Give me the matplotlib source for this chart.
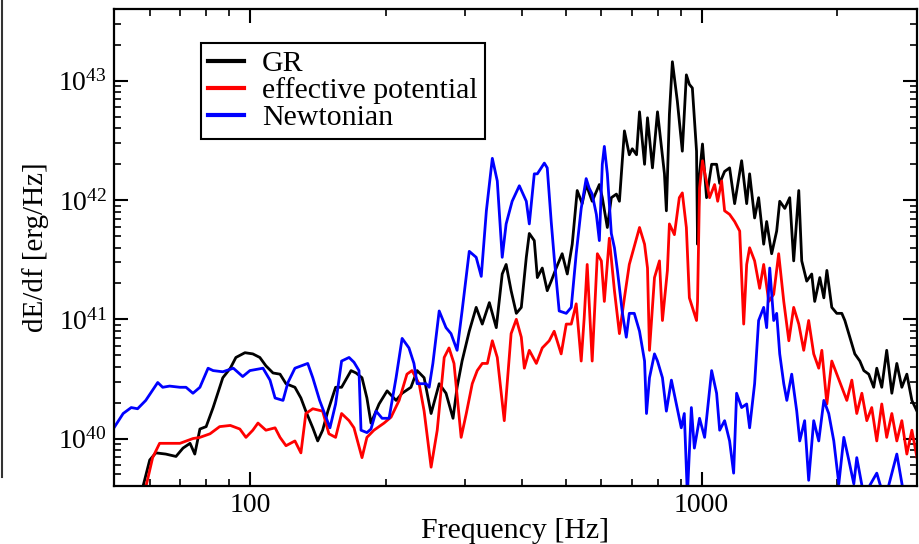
import numpy as np
import matplotlib
matplotlib.use("Agg")
import matplotlib.pyplot as plt
from matplotlib.ticker import FixedLocator, FuncFormatter, LogLocator, NullFormatter
from matplotlib.lines import Line2D

plt.rcParams['font.family'] = ['Liberation Serif', 'DejaVu Serif']
plt.rcParams['mathtext.fontset'] = 'custom'
plt.rcParams['mathtext.rm'] = 'Liberation Serif'
plt.rcParams['mathtext.default'] = 'regular'

# ---- data (frequency in Hz, log10 of dE/df in erg/Hz) ----
gr_freq = [56.2, 57.9, 60.0, 61.9, 65.1, 68.6, 71.1, 73.7, 75.5, 77.5,
           80.0, 82.9, 87.1, 90.5, 93.1, 97.5, 101.5, 105.2, 108.5, 112.5,
           116.6, 120.2, 125.8, 129.7, 133, 137.8, 141.3, 144.9, 148.8, 154.8,
           159.6, 167.5, 171.8, 177.1, 181.6, 185.4, 193.2, 201.3, 210.7, 217.3,
           227.3, 234.6, 243.1, 251.9, 262.5, 271.8, 281.7, 287.6, 295, 306,
           317, 327, 339, 351.2, 362, 369.3, 378.8, 389, 399, 409.3,
           415.6, 426.3, 433, 444, 455.4, 464.7, 476.7, 491.4, 504.4, 517.3,
           530.6, 544.2, 555.4, 572.7, 594, 603, 618.7, 631.4, 648, 658,
           675, 692, 702.6, 718, 729, 748, 759.3, 778.7, 799, 827.8,
           836, 849, 862, 884, 906.8, 925.7, 940, 954.4, 975, 980,
           990, 1005, 1026, 1053, 1080, 1097, 1125, 1154, 1184, 1227,
           1259, 1278, 1311, 1338, 1373, 1394, 1430, 1467, 1490, 1529,
           1568, 1600, 1642, 1667, 1710, 1754, 1781, 1828, 1866, 1895,
           1943, 1993, 2045, 2077, 2130, 2185, 2242, 2288, 2346, 2406,
           2444, 2507, 2571, 2639, 2707, 2777, 2849, 2923, 3000]
gr_log_dEdf = [39.48, 39.59, 39.82, 39.88, 39.87, 39.85, 39.92, 39.96, 39.87, 40.08,
               40.10, 40.26, 40.51, 40.59, 40.68, 40.72, 40.71, 40.68, 40.61, 40.55,
               40.54, 40.46, 40.43, 40.34, 40.23, 40.09, 39.98, 40.07, 40.23, 40.43,
               40.43, 40.57, 40.55, 40.51, 40.34, 40.13, 40.29, 40.40, 40.32, 40.38,
               40.43, 40.57, 40.51, 40.21, 40.46, 40.38, 40.17, 40.43, 40.65, 40.90,
               41.10, 40.96, 41.14, 40.93, 41.38, 41.46, 41.24, 41.05, 41.10, 41.52,
               41.72, 41.66, 41.35, 41.43, 41.24, 41.32, 41.43, 41.55, 41.38, 41.63,
               42.08, 41.97, 42.13, 41.99, 42.13, 42.02, 41.77, 42.02, 42.05, 41.99,
               42.58, 42.38, 42.43, 42.38, 42.74, 42.30, 42.69, 42.27, 42.74, 42.22,
               41.91, 42.72, 43.16, 42.83, 42.41, 43.05, 42.97, 42.94, 42.41, 41.63,
               42.22, 42.47, 42.02, 42.30, 42.30, 42.14, 42.24, 42.27, 41.97, 42.33,
               41.97, 42.22, 41.85, 42.02, 41.63, 41.82, 41.55, 41.74, 41.99, 41.93,
               42.02, 41.49, 42.08, 41.49, 41.32, 41.38, 41.15, 41.35, 41.18, 41.41,
               41.10, 41.05, 41.05, 40.99, 40.85, 40.71, 40.65, 40.57, 40.54, 40.43,
               40.59, 40.43, 40.74, 40.38, 40.63, 40.43, 40.54, 40.32, 40.23]

eff_freq = [58.2, 58.8, 60.9, 63.1, 66.4, 70.0, 74.8, 77.5, 81.6, 85.7,
            90.5, 95.0, 98.0, 101.5, 104.2, 108.5, 113.7, 116.6, 120.2, 125.8,
            129.7, 133, 137.8, 144.9, 149.6, 154.8, 159.6, 165.8, 170, 177.1,
            181.6, 188.2, 198.2, 205.4, 214, 222.7, 228.5, 237, 243.1, 251.9,
            259.9, 269.3, 276, 283.1, 293.6, 301.4, 310.7, 318.7, 327, 335.6,
            344.2, 353, 365.8, 378.8, 389, 399, 405.2, 415.6, 430.8, 444,
            460, 471.8, 488.9, 501.8, 514.7, 527.9, 541.5, 549.8, 558.3, 572.7,
            588, 600.1, 609.3, 625, 641.5, 658, 675, 692, 702.6, 729,
            748, 759.3, 767, 786.8, 807, 819.4, 840.4, 849, 870.9, 893,
            906.8, 925.7, 940, 975, 980, 990, 1005, 1042, 1069, 1086,
            1108, 1125, 1154, 1184, 1215, 1240, 1259, 1278, 1311, 1345,
            1373, 1409, 1445, 1482, 1521, 1561, 1600, 1642, 1684, 1727,
            1772, 1818, 1847, 1895, 1943, 1993, 2045, 2098, 2152, 2207,
            2265, 2323, 2382, 2444, 2507, 2571, 2639, 2707, 2777, 2849,
            2923, 3000]
eff_log_dEdf = [39.48, 39.59, 39.84, 39.96, 39.96, 39.96, 40.00, 40.01, 40.04, 40.10,
                40.11, 40.08, 40.01, 40.07, 40.13, 40.07, 40.09, 40.01, 39.94, 39.98,
                39.88, 40.21, 40.25, 40.23, 40.04, 40.01, 40.21, 40.15, 40.09, 39.84,
                40.01, 40.07, 40.13, 40.18, 40.32, 40.54, 40.57, 40.46, 40.23, 39.76,
                40.07, 40.68, 40.76, 40.63, 40.01, 40.21, 40.46, 40.57, 40.63, 40.63,
                40.82, 40.68, 40.15, 40.88, 41.00, 40.85, 40.59, 40.74, 40.63, 40.76,
                40.82, 40.90, 40.71, 40.96, 40.96, 41.13, 40.65, 41.01, 41.46, 40.65,
                41.55, 41.49, 41.15, 41.68, 41.24, 40.88, 41.18, 41.46, 41.55, 41.77,
                41.63, 41.43, 40.74, 41.35, 41.49, 40.99, 41.41, 41.80, 41.71, 42.02,
                42.06, 41.77, 41.18, 40.99, 41.15, 42.10, 42.33, 42.02, 42.13, 41.99,
                42.16, 41.91, 41.88, 41.82, 41.74, 40.96, 41.46, 41.60, 41.49, 41.26,
                41.46, 41.15, 41.21, 41.55, 41.15, 40.82, 41.10, 40.96, 40.74, 40.99,
                40.71, 40.59, 40.74, 40.29, 40.65, 40.54, 40.43, 40.32, 40.49, 40.21,
                40.38, 40.15, 40.26, 39.98, 40.29, 40.01, 40.21, 39.98, 40.15, 39.87,
                40.07, 39.84]

newt_freq = [50.0, 52.4, 54.6, 56.4, 58.8, 62.5, 64.1, 66.4, 70.0, 72.2,
             74.8, 77.5, 80.8, 82.9, 87.1, 91.9, 96.4, 100, 106.9, 110.8,
             113.7, 118.4, 121.4, 125.8, 134.3, 137.8, 142.7, 150.4, 154.8, 159.6,
             165.8, 170, 174.4, 176.2, 181.6, 185.4, 190.3, 196.2, 203.3, 210.7,
             217.3, 225, 230.8, 234.6, 245.5, 249.4, 254.2, 262.5, 271.8, 278.8,
             287.6, 295, 306, 317, 325.3, 333.9, 344.2, 353, 362, 369.3,
             380.8, 395, 409.3, 415.6, 426.3, 433, 441.8, 448.7, 455.4, 464.7,
             471.8, 484, 501.8, 514.7, 527.9, 541.5, 555.4, 564, 572.7, 585,
             594, 603, 609.3, 618.7, 631.4, 641.5, 651.3, 668.2, 681.5, 692,
             709.8, 729, 748, 755.4, 767, 786.8, 799, 819.4, 836, 857.7,
             879.5, 902, 916, 930.5, 949.6, 964.2, 990, 1016, 1053, 1080,
             1097, 1125, 1154, 1178, 1196, 1227, 1259, 1278, 1311, 1338,
             1373, 1394, 1416, 1445, 1467, 1490, 1521, 1545, 1584, 1625,
             1650, 1692, 1727, 1772, 1818, 1866, 1913, 1963, 2014, 2066,
             2119, 2174, 2207, 2288, 2444, 2546, 2707, 2820, 3000]
newt_log_dEdf = [40.09, 40.21, 40.26, 40.25, 40.32, 40.47, 40.43, 40.44, 40.43, 40.43,
                 40.38, 40.43, 40.59, 40.57, 40.56, 40.59, 40.52, 40.57, 40.59, 40.49,
                 40.34, 40.32, 40.47, 40.59, 40.63, 40.51, 40.32, 40.09, 40.29, 40.65,
                 40.68, 40.64, 40.57, 40.07, 40.05, 40.08, 40.23, 40.17, 40.17, 40.51,
                 40.84, 40.76, 40.63, 40.46, 40.46, 40.43, 40.63, 41.07, 40.93, 40.88,
                 40.74, 41.07, 41.57, 41.52, 41.36, 41.91, 42.35, 42.16, 41.52, 41.80,
                 41.99, 42.12, 41.99, 41.80, 42.22, 42.22, 42.27, 42.31, 42.27, 41.82,
                 41.52, 41.07, 41.05, 41.10, 41.55, 41.93, 42.18, 42.10, 42.05, 41.88,
                 41.66, 42.30, 42.45, 42.22, 41.72, 41.60, 41.41, 41.05, 40.85, 41.05,
                 41.05, 40.90, 40.65, 40.21, 40.51, 40.71, 40.65, 40.51, 40.23, 40.49,
                 40.29, 40.09, 40.21, 39.52, 40.26, 39.92, 40.17, 40.01, 40.57, 40.38,
                 40.07, 40.15, 39.98, 39.71, 40.38, 40.26, 40.29, 40.09, 40.46, 40.99,
                 41.10, 40.93, 41.43, 40.99, 41.05, 40.71, 40.46, 40.32, 40.54, 40.23,
                 39.98, 40.15, 39.65, 40.15, 39.98, 40.32, 40.21, 39.98, 39.62, 40.01,
                 39.82, 39.62, 39.84, 39.52, 39.71, 39.48, 39.87, 39.48, 39.40]

series_labels = ['GR', 'effective potential', 'Newtonian']
series_colors = ['#000000', '#ff0000', '#0000ff']
x_major_ticks = [100, 1000]
y_major_ticks = [1e40, 1e41, 1e42, 1e43]

# ---- figure ----
fig = plt.figure(figsize=(9.19, 5.44), dpi=100)
ax = fig.add_axes([0.1240, 0.1066, 0.8738, 0.8768])

data = [(gr_freq, gr_log_dEdf), (eff_freq, eff_log_dEdf), (newt_freq, newt_log_dEdf)]
for (f, lg), lab, col in zip(data, series_labels, series_colors):
    ax.plot(f, 10.0 ** np.asarray(lg), color=col, lw=2.0, label=lab,
            solid_joinstyle='round')

ax.set_xscale('log')
ax.set_yscale('log')
ax.set_xlim(50, 3000)
ax.set_ylim(4e39, 4e43)

ax.xaxis.set_major_locator(FixedLocator(x_major_ticks))
ax.xaxis.set_major_formatter(FuncFormatter(lambda v, p: '%d' % round(v)))
ax.xaxis.set_minor_locator(LogLocator(base=10, subs=np.arange(2, 10), numticks=20))
ax.xaxis.set_minor_formatter(NullFormatter())
ax.yaxis.set_major_locator(FixedLocator(y_major_ticks))
ax.yaxis.set_major_formatter(FuncFormatter(
    lambda v, p: r'$\mathregular{10^{%d}}$' % round(np.log10(v))))
ax.yaxis.set_minor_locator(LogLocator(base=10, subs=np.arange(2, 10), numticks=20))
ax.yaxis.set_minor_formatter(NullFormatter())

ax.tick_params(which='both', direction='in', top=True, right=True, labelsize=20)
ax.tick_params(which='major', length=10, width=1.5, pad=5)
ax.tick_params(which='minor', length=5, width=1.2)
for s in ax.spines.values():
    s.set_linewidth(1.6)

ax.set_xlabel('Frequency [Hz]', fontsize=21.5, labelpad=0)
ax.set_ylabel('dE/df [erg/Hz]', fontsize=21, labelpad=7)

leg = ax.legend(loc='upper left', bbox_to_anchor=(0.108, 0.929), frameon=True,
                fancybox=False, edgecolor='black', framealpha=1, fontsize=21.5,
                handlelength=1.2, handletextpad=0.6, labelspacing=0.0,
                borderpad=0.25, borderaxespad=0)
leg.get_frame().set_linewidth(1.5)
for h in leg.legend_handles:
    h.set_linewidth(3)

fig.add_artist(Line2D([1.5 / 919, 1.5 / 919], [(544 - 477) / 544, 1.0],
                      transform=fig.transFigure, color='#333333', lw=1.5))

fig.savefig('out.png', dpi=100)
